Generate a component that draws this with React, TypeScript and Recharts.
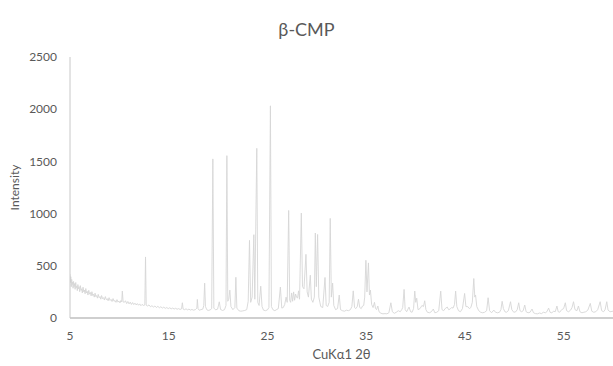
import { Line, LineChart, XAxis, YAxis } from "recharts";

// [2θ (deg), intensity (counts)]
const lowAngle: [number, number][] = [
  [5.0, 420], [5.04, 340], [5.08, 395], [5.13, 300], [5.17, 370], [5.22, 320], [5.27, 345], [5.31, 285],
  [5.36, 350], [5.42, 300], [5.47, 330], [5.52, 275], [5.58, 340], [5.63, 290], [5.69, 305], [5.74, 262],
  [5.8, 320], [5.86, 280], [5.92, 300], [5.98, 252], [6.05, 310], [6.12, 265], [6.18, 280], [6.25, 240],
  [6.32, 295], [6.4, 250], [6.46, 268], [6.53, 232], [6.6, 282], [6.68, 240], [6.75, 255], [6.82, 220],
  [6.9, 265], [6.98, 228], [7.06, 245], [7.14, 212], [7.22, 252], [7.3, 215], [7.38, 228], [7.46, 200],
  [7.54, 238], [7.62, 205], [7.7, 215], [7.78, 190], [7.86, 226], [7.95, 195], [8.04, 205], [8.12, 180],
  [8.2, 215], [8.3, 185], [8.4, 195], [8.48, 172], [8.58, 205], [8.68, 175], [8.78, 185], [8.86, 165],
  [8.96, 195], [9.06, 168], [9.16, 178], [9.26, 158], [9.36, 186], [9.46, 160], [9.56, 168], [9.66, 150],
  [9.76, 176], [9.86, 152], [9.96, 162], [10.06, 145], [10.16, 168], [10.24, 155], [10.3, 258], [10.38, 155],
  [10.5, 150], [10.62, 165], [10.74, 138], [10.86, 158], [10.98, 135], [11.1, 152], [11.22, 130], [11.34, 148],
  [11.46, 128], [11.58, 142], [11.7, 125], [11.82, 138], [11.94, 122], [12.06, 135], [12.18, 118], [12.3, 130],
  [12.45, 120], [12.58, 125], [12.65, 585], [12.72, 122], [12.85, 115], [13.0, 125], [13.15, 108], [13.3, 118],
  [13.45, 105], [13.6, 115], [13.75, 100], [13.9, 112], [14.05, 98], [14.2, 108], [14.35, 95], [14.5, 104],
  [14.65, 92], [14.8, 100], [14.95, 90], [15.1, 98], [15.25, 88], [15.4, 95], [15.55, 86], [15.7, 93],
  [15.85, 84], [16.0, 90], [16.15, 82], [16.3, 88], [16.38, 146], [16.46, 85], [16.6, 80], [16.75, 88],
  [16.9, 78], [17.05, 85], [17.2, 76], [17.35, 82], [17.5, 75], [17.7, 80], [17.85, 95], [17.9, 178],
  [17.97, 90], [18.1, 74], [18.25, 80], [18.45, 85],
];

const mainPeaks: [number, number][] = [
  [18.55, 120], [18.64, 334], [18.72, 110], [18.85, 80], [19.0, 72], [19.2, 78], [19.35, 90], [19.47, 1524],
  [19.57, 95], [19.75, 78], [19.95, 85], [20.12, 155], [20.25, 82], [20.45, 72], [20.65, 80], [20.8, 120],
  [20.89, 1555], [20.98, 160], [21.08, 180], [21.19, 267], [21.3, 110], [21.5, 80], [21.7, 100], [21.8, 390],
  [21.9, 95], [22.1, 70], [22.3, 65], [22.5, 68], [22.7, 72], [22.9, 80], [23.05, 160], [23.18, 744],
  [23.3, 150], [23.45, 200], [23.62, 798], [23.72, 180], [23.92, 1625], [24.02, 150], [24.15, 120], [24.32, 305],
  [24.45, 110], [24.6, 75], [24.8, 70], [25.0, 78], [25.15, 100], [25.3, 2032], [25.4, 110], [25.55, 80],
  [25.75, 70], [25.95, 82], [26.1, 90], [26.31, 296], [26.45, 95], [26.6, 100], [26.75, 130], [26.89, 200],
  [27.0, 150], [27.15, 1030], [27.25, 170], [27.35, 150], [27.45, 240], [27.55, 160], [27.65, 250], [27.75, 170],
  [27.85, 230], [27.95, 200], [28.05, 190], [28.15, 260], [28.25, 180], [28.43, 1005], [28.55, 300], [28.7, 280],
  [28.9, 610], [29.02, 250], [29.15, 200], [29.34, 410], [29.45, 180], [29.6, 150], [29.75, 200], [29.85, 814],
  [29.95, 300], [30.08, 800], [30.2, 200], [30.4, 110], [30.6, 100], [30.83, 388], [30.95, 120], [31.1, 110],
  [31.25, 150], [31.36, 954], [31.47, 200], [31.6, 334], [31.72, 120], [31.9, 80], [32.1, 90], [32.27, 220],
  [32.4, 80], [32.6, 70], [32.8, 65], [33.0, 75],
];

const midAngle: [number, number][] = [
  [33.2, 70], [33.4, 80], [33.55, 110], [33.69, 260], [33.82, 100], [33.95, 90], [34.1, 110], [34.22, 180],
  [34.35, 100], [34.5, 90], [34.63, 115], [34.75, 120], [34.85, 200], [34.97, 553], [35.08, 250], [35.23, 528],
  [35.33, 220], [35.43, 267], [35.55, 130], [35.7, 100], [35.84, 150], [35.95, 90], [36.05, 80], [36.18, 115],
  [36.3, 60], [36.5, 45], [36.7, 40], [36.9, 42], [37.1, 40], [37.3, 50], [37.5, 146], [37.65, 60],
  [37.85, 45], [38.05, 55], [38.25, 70], [38.45, 60], [38.6, 80], [38.7, 100], [38.84, 274], [38.95, 80],
  [39.1, 60], [39.34, 105], [39.5, 60], [39.65, 55], [39.8, 90], [39.92, 258], [40.02, 150], [40.12, 190],
  [40.25, 80], [40.45, 90], [40.65, 120], [40.8, 110], [40.93, 165], [41.05, 80], [41.2, 55], [41.4, 50],
  [41.6, 60], [41.8, 86], [41.95, 50], [42.15, 55], [42.35, 70], [42.55, 258], [42.68, 80], [42.85, 70],
  [43.0, 90], [43.21, 105], [43.35, 80], [43.5, 85], [43.65, 100], [43.8, 95], [43.95, 130], [44.06, 258],
  [44.18, 110], [44.35, 70], [44.55, 60], [44.75, 90], [44.97, 235], [45.1, 110], [45.3, 108], [45.45, 90],
  [45.6, 100], [45.75, 150], [45.9, 378], [46.0, 200], [46.08, 220], [46.2, 110], [46.4, 70], [46.6, 55],
  [46.8, 50], [47.0, 55], [47.2, 70], [47.35, 194], [47.5, 70], [47.7, 50], [47.93, 76], [48.1, 55],
  [48.3, 50],
];

const highAngle: [number, number][] = [
  [48.5, 55], [48.65, 80], [48.77, 160], [48.9, 90], [49.05, 60], [49.2, 55], [49.4, 70], [49.62, 156],
  [49.75, 80], [49.95, 55], [50.15, 60], [50.3, 80], [50.45, 146], [50.58, 70], [50.75, 60], [50.9, 70],
  [51.06, 124], [51.2, 60], [51.4, 50], [51.6, 55], [51.8, 86], [51.95, 50], [52.15, 42], [52.35, 40],
  [52.55, 48], [52.75, 42], [52.95, 55], [53.15, 50], [53.3, 60], [53.48, 95], [53.62, 55], [53.8, 50],
  [54.0, 65], [54.15, 60], [54.32, 115], [54.45, 60], [54.6, 55], [54.8, 80], [55.0, 90], [55.17, 146],
  [55.3, 70], [55.5, 60], [55.7, 75], [55.85, 100], [56.0, 156], [56.15, 80], [56.35, 70], [56.5, 115],
  [56.65, 60], [56.85, 50], [57.05, 55], [57.25, 60], [57.45, 75], [57.7, 140], [57.85, 65], [58.05, 55],
  [58.25, 60], [58.45, 80], [58.7, 156], [58.85, 70], [59.05, 60], [59.2, 80], [59.37, 156], [59.5, 75],
  [59.7, 60], [60.0, 65],
];

const xTicks = [5, 15, 25, 35, 45, 55];
const yTicks = [0, 500, 1000, 1500, 2000, 2500];

const data = [...lowAngle, ...mainPeaks, ...midAngle, ...highAngle].map(([t, i]) => ({ t, i }));

const FONT = "Lato, 'Open Sans', sans-serif";
const TEXT = "#595959";

export default function App() {
  return (
    <div style={{ position: "absolute", left: 0, top: 0, width: 613, height: 366, background: "#fff", fontFamily: FONT }}>
      <div
        style={{
          position: "absolute",
          left: 0,
          width: 613,
          top: 18,
          textAlign: "center",
          fontSize: 18,
          color: TEXT,
          lineHeight: "22px",
        }}
      >
        β-CMP
      </div>
      <LineChart width={613} height={366} data={data} margin={{ top: 57, right: 0, bottom: 0, left: 0 }}>
        <XAxis
          dataKey="t"
          type="number"
          domain={[5, 60]}
          ticks={xTicks}
          allowDataOverflow
          height={48}
          tickLine={false}
          tickSize={0}
          tickMargin={13}
          stroke="#bfbfbf"
          strokeWidth={1.5}
          tick={{ fill: TEXT, fontSize: 12, fontFamily: FONT }}
          label={{ value: "CuKα1 2θ", position: "insideBottom", offset: 7, fill: TEXT, fontSize: 13, fontFamily: FONT }}
        />
        <YAxis
          type="number"
          domain={[0, 2500]}
          ticks={yTicks}
          width={70}
          tickLine={false}
          tickSize={0}
          tickMargin={13}
          stroke="#c8c8c8"
          tick={{ fill: TEXT, fontSize: 12, fontFamily: FONT }}
          label={{ value: "Intensity", angle: -90, position: "insideLeft", offset: 15, fill: TEXT, fontSize: 12, fontFamily: FONT, style: { textAnchor: "middle" } }}
        />
        <Line
          type="linear"
          dataKey="i"
          stroke="#d6d6d6"
          strokeWidth={0.9}
          dot={false}
          activeDot={false}
          isAnimationActive={false}
        />
      </LineChart>
    </div>
  );
}
